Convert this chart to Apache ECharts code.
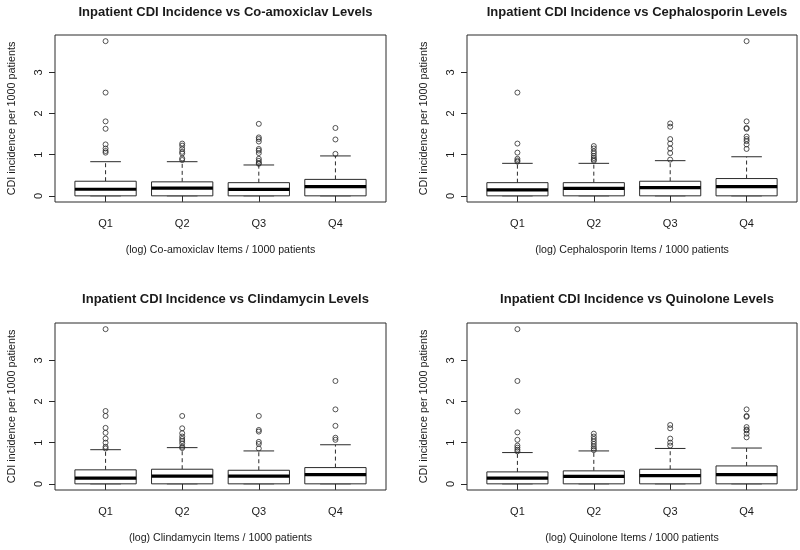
<!DOCTYPE html>
<html>
<head>
<meta charset="utf-8">
<script src="https://cdn.jsdelivr.net/npm/echarts@6/dist/echarts.min.js"></script>
<style>html,body{margin:0;padding:0;background:#fff}#c{width:800px;height:550px}</style>
</head>
<body>
<div id="c"></div>
<script>
// ---- data ----
const categories = ['Q1', 'Q2', 'Q3', 'Q4'];
const yTicks = [0, 1, 2, 3];
const panelTitles = [
  'Inpatient CDI Incidence vs Co-amoxiclav Levels',
  'Inpatient CDI Incidence vs Cephalosporin Levels',
  'Inpatient CDI Incidence vs Clindamycin Levels',
  'Inpatient CDI Incidence vs Quinolone Levels'
];
const xAxisNames = [
  '(log) Co-amoxiclav Items / 1000 patients',
  '(log) Cephalosporin Items / 1000 patients',
  '(log) Clindamycin Items / 1000 patients',
  '(log) Quinolone Items / 1000 patients'
];
const yAxisName = 'CDI incidence per 1000 patients';

// [lower whisker, Q1, median, Q3, upper whisker] per quartile group
const coamoxiclavBoxes = [
  [0, 0, 0.16, 0.355, 0.83],
  [0, 0, 0.185, 0.34, 0.83],
  [0, 0, 0.155, 0.32, 0.75],
  [0, 0, 0.225, 0.40, 0.97]
];
const coamoxiclavOutliers = [
  [3.76, 2.51, 1.81, 1.63, 1.25, 1.15, 1.09, 1.05],
  [1.27, 1.22, 1.14, 1.07, 1.03, 0.91, 0.87],
  [1.75, 1.42, 1.38, 1.32, 1.14, 1.10, 1.04, 0.90, 0.85, 0.80, 0.78],
  [1.65, 1.37, 1.02]
];
const cephalosporinBoxes = [
  [0, 0, 0.145, 0.32, 0.79],
  [0, 0, 0.18, 0.32, 0.79],
  [0, 0, 0.20, 0.355, 0.855],
  [0, 0, 0.225, 0.42, 0.95]
];
const cephalosporinOutliers = [
  [2.51, 1.27, 1.05, 0.90, 0.86, 0.83],
  [1.21, 1.15, 1.08, 1.03, 0.97, 0.92, 0.88, 0.85],
  [1.76, 1.68, 1.38, 1.27, 1.15, 1.04, 0.88],
  [3.76, 1.81, 1.65, 1.63, 1.44, 1.38, 1.33, 1.25, 1.14]
];
const clindamycinBoxes = [
  [0, 0, 0.14, 0.34, 0.83],
  [0, 0, 0.185, 0.355, 0.88],
  [0, 0, 0.185, 0.33, 0.80],
  [0, 0, 0.225, 0.395, 0.95]
];
const clindamycinOutliers = [
  [3.76, 1.77, 1.65, 1.36, 1.24, 1.10, 1.00, 0.90, 0.86],
  [1.65, 1.35, 1.23, 1.15, 1.09, 1.04, 0.98, 0.90, 0.87],
  [1.65, 1.31, 1.27, 1.02, 0.97, 0.86],
  [2.50, 1.81, 1.41, 1.12, 1.07]
];
const quinoloneBoxes = [
  [0, 0, 0.14, 0.29, 0.76],
  [0, 0, 0.18, 0.315, 0.80],
  [0, 0, 0.20, 0.355, 0.86],
  [0, 0, 0.225, 0.435, 0.87]
];
const quinoloneOutliers = [
  [3.76, 2.50, 1.76, 1.25, 1.07, 0.93, 0.88, 0.83, 0.79],
  [1.22, 1.15, 1.09, 1.03, 0.97, 0.91, 0.86, 0.82],
  [1.43, 1.35, 1.10, 1.00, 0.93],
  [1.81, 1.65, 1.63, 1.38, 1.32, 1.30, 1.22, 1.13]
];

// ---- chart ----
const panelBoxes = [coamoxiclavBoxes, cephalosporinBoxes, clindamycinBoxes, quinoloneBoxes];
const panelOutliers = [coamoxiclavOutliers, cephalosporinOutliers, clindamycinOutliers, quinoloneOutliers];

const FONT = '"Liberation Sans", Arial, sans-serif';
const INK = '#1a1a1a';
const LINE = '#2a2a2a';
const BOXWEX = 0.8;
const grids = [
  { left: 55, top: 35, width: 331, height: 167 },
  { left: 467, top: 35, width: 330, height: 167 },
  { left: 55, top: 323, width: 331, height: 167 },
  { left: 467, top: 323, width: 330, height: 167 }
];
const titleTops = [1, 1, 288, 288];

function renderBox(params, api) {
  const x = api.value(0);
  const lo = api.value(1), q1 = api.value(2), med = api.value(3), q3 = api.value(4), hi = api.value(5);
  const halfW = api.size([BOXWEX, 0])[0] / 2;
  const pLo = api.coord([x, lo]), pQ1 = api.coord([x, q1]), pMed = api.coord([x, med]);
  const pQ3 = api.coord([x, q3]), pHi = api.coord([x, hi]);
  const cx = pMed[0];
  const ws = { stroke: LINE, lineWidth: 1, lineDash: [4, 3], fill: null };
  const ss = { stroke: LINE, lineWidth: 1, fill: null };
  return {
    type: 'group',
    children: [
      { type: 'line', shape: { x1: cx, y1: pQ3[1], x2: cx, y2: pHi[1] }, style: ws },
      { type: 'line', shape: { x1: cx, y1: pQ1[1], x2: cx, y2: pLo[1] }, style: ws },
      { type: 'line', shape: { x1: cx - halfW / 2, y1: pHi[1], x2: cx + halfW / 2, y2: pHi[1] }, style: ss },
      { type: 'line', shape: { x1: cx - halfW / 2, y1: pLo[1], x2: cx + halfW / 2, y2: pLo[1] }, style: ss },
      { type: 'rect', shape: { x: cx - halfW, y: pQ3[1], width: 2 * halfW, height: pQ1[1] - pQ3[1] },
        style: { fill: '#fff', stroke: LINE, lineWidth: 1 } },
      { type: 'line', shape: { x1: cx - halfW, y1: pMed[1], x2: cx + halfW, y2: pMed[1] },
        style: { stroke: '#000', lineWidth: 3.2, fill: null } }
    ]
  };
}

const option = {
  animation: false,
  backgroundColor: '#fff',
  title: panelTitles.map((t, i) => ({
    text: t,
    left: grids[i].left + grids[i].width / 2,
    top: titleTops[i],
    textAlign: 'center',
    textStyle: { fontFamily: FONT, fontSize: 13, fontWeight: 'bold', color: INK }
  })),
  grid: grids.map(g => Object.assign({ show: true, borderColor: LINE, borderWidth: 1, backgroundColor: '#fff' }, g)),
  xAxis: grids.map((g, i) => ({
    type: 'value', gridIndex: i, min: 0.34, max: 4.66,
    name: xAxisNames[i], nameLocation: 'middle', nameGap: 43,
    nameTextStyle: { fontFamily: FONT, fontSize: 10.6, color: INK },
    axisLine: { show: false },
    splitLine: { show: false },
    axisTick: { show: true, inside: false, length: 6, lineStyle: { color: LINE }, customValues: [1, 2, 3, 4] },
    axisLabel: { show: true, margin: 16, fontFamily: FONT, fontSize: 11, color: INK,
      customValues: [1, 2, 3, 4], formatter: v => categories[Math.round(v) - 1] }
  })),
  yAxis: grids.map((g, i) => ({
    type: 'value', gridIndex: i, min: -0.15, max: 3.91,
    name: yAxisName, nameLocation: 'middle', nameGap: 37,
    nameTextStyle: { fontFamily: FONT, fontSize: 10.8, color: INK },
    axisLine: { show: false },
    splitLine: { show: false },
    axisTick: { show: true, inside: false, length: 6, lineStyle: { color: LINE }, customValues: yTicks },
    axisLabel: { show: true, rotate: 90, margin: 11, fontFamily: FONT, fontSize: 11, color: INK,
      customValues: yTicks, formatter: v => String(v) }
  })),
  series: []
};

panelBoxes.forEach((boxes, i) => {
  option.series.push({
    type: 'custom', xAxisIndex: i, yAxisIndex: i, z: 2,
    renderItem: renderBox,
    encode: { x: 0, y: [1, 2, 3, 4, 5] },
    data: boxes.map((b, k) => [k + 1].concat(b))
  });
  const pts = [];
  panelOutliers[i].forEach((arr, k) => arr.forEach(v => pts.push([k + 1, v])));
  option.series.push({
    type: 'scatter', xAxisIndex: i, yAxisIndex: i, z: 3,
    symbol: 'circle', symbolSize: 5,
    itemStyle: { color: 'rgba(0,0,0,0)', borderColor: LINE, borderWidth: 1 },
    data: pts
  });
});

const chart = echarts.init(document.getElementById('c'), null, { renderer: 'canvas' });
chart.setOption(option);
</script>
</body>
</html>
